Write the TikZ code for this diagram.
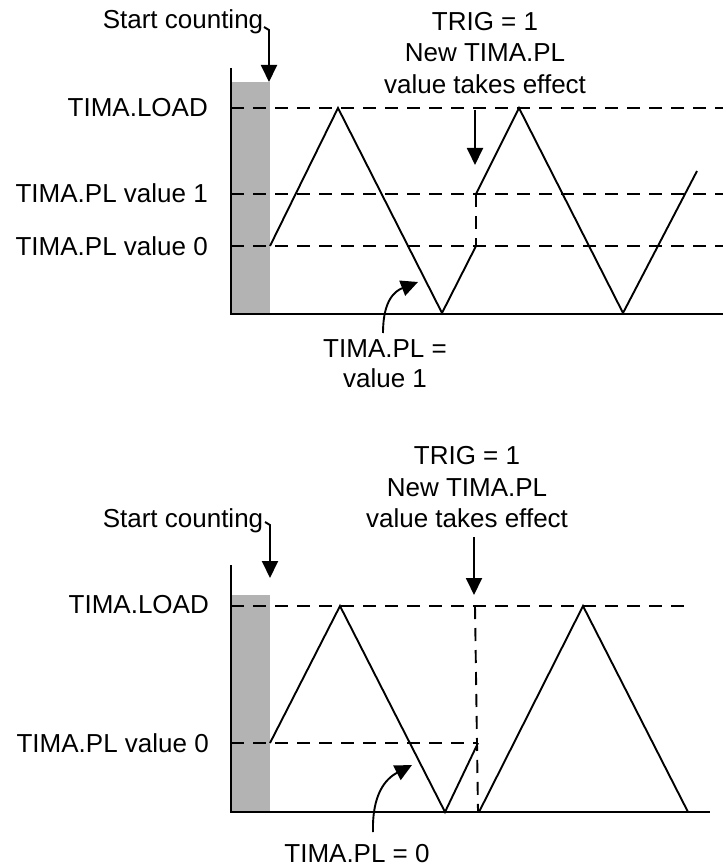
\documentclass[tikz,border=0pt]{standalone}
\usepackage{fontspec}
\setmainfont{Liberation Sans}
\usetikzlibrary{arrows.meta}
\definecolor{barGray}{RGB}{179,179,179}
\begin{document}
\begin{tikzpicture}[x=1pt,y=-1pt,
  lbl/.style={font=\fontsize{26}{31}\selectfont, inner sep=0pt},
  wave/.style={line width=1.9pt, line join=miter},
  axisline/.style={line width=2.8pt},
  guide/.style={line width=1.9pt, dash pattern=on 13pt off 9pt},
  ptr/.style={line width=1.9pt, -{Triangle[length=17pt,width=16pt]}},
]
\useasboundingbox (0,0) rectangle (723,866);

% ---------------- top diagram ----------------
\fill[barGray] (232,82) rectangle (270,313);
\draw[guide] (231,108) -- (723,108);
\draw[guide] (231,194) -- (723,194);
\draw[guide] (231,246) -- (723,246);
\draw[guide] (476,194) -- (476,246);
\draw[axisline] (231,68) -- (231,314) -- (723,314);

\coordinate (a0) at (270,246);
\coordinate (a1) at (338,108);
\coordinate (a2) at (442,313);
\coordinate (a3) at (476,246);
\coordinate (a4) at (476,194);
\coordinate (a5) at (519,108);
\coordinate (a6) at (623,313);
\coordinate (a7) at (697,171);
\draw[wave] (a0) -- (a1) -- (a2) -- (a3);
\draw[wave] (a4) -- (a5) -- (a6) -- (a7);

\node[lbl, anchor=base east] (loadA) at (208,117) {TIMA.LOAD};
\node[lbl, anchor=base east] (plOneA) at (208,203) {TIMA.PL value 1};
\node[lbl, anchor=base east] (plZeroA) at (208,255) {TIMA.PL value 0};

\node[lbl, anchor=base] (startA) at (183,29) {Start counting};
\coordinate (startAhook) at (264,27);
\coordinate (startAbend) at (269,30);
\coordinate (startAtip) at (269,82);
\draw[ptr] (startAhook) -- (startAbend) -- (startAtip);

\node[lbl, anchor=base] (trigA1) at (485,31) {TRIG = 1};
\node[lbl, anchor=base] (trigA2) at (485,62) {New TIMA.PL};
\node[lbl, anchor=base] (trigA3) at (485,94) {value takes effect};
\coordinate (trigAtip) at (475,165);
\draw[ptr] (475,110) -- (trigAtip);

\node[lbl, anchor=base] (eqA1) at (385,357) {TIMA.PL =};
\node[lbl, anchor=base] (eqA2) at (385,387) {value 1};
\coordinate (curveAtail) at (383,333);
\coordinate (curveAtip) at (418,282);
\draw[ptr] (curveAtail) .. controls (383,300) and (395,291) .. (curveAtip);

% ---------------- bottom diagram ----------------
\fill[barGray] (232,595) rectangle (270,812);
\draw[guide] (231,606) -- (688,606);
\draw[guide] (231,743) -- (478,743);
\draw[guide] (475,606) -- (478,812);
\draw[axisline] (231,565) -- (231,812) -- (710,812);

\coordinate (b0) at (270,743);
\coordinate (b1) at (340,606);
\coordinate (b2) at (445,812);
\coordinate (b3) at (478,743);
\coordinate (b4) at (479,812);
\coordinate (b5) at (583,606);
\coordinate (b6) at (688,812);
\draw[wave] (b0) -- (b1) -- (b2) -- (b3);
\draw[wave] (b4) -- (b5) -- (b6);

\node[lbl, anchor=base east] (loadB) at (209,613) {TIMA.LOAD};
\node[lbl, anchor=base east] (plZeroB) at (209,752) {TIMA.PL value 0};

\node[lbl, anchor=base] (startB) at (183,527) {Start counting};
\coordinate (startBhook) at (265,522);
\coordinate (startBbend) at (270,525);
\coordinate (startBtip) at (270,578);
\draw[ptr] (startBhook) -- (startBbend) -- (startBtip);

\node[lbl, anchor=base] (trigB1) at (467,464) {TRIG = 1};
\node[lbl, anchor=base] (trigB2) at (467,496) {New TIMA.PL};
\node[lbl, anchor=base] (trigB3) at (467,527) {value takes effect};
\coordinate (trigBtip) at (474,595);
\draw[ptr] (474,537) -- (trigBtip);

\node[lbl, anchor=base] (eqB) at (357,862) {TIMA.PL = 0};
\coordinate (curveBtail) at (373,832);
\coordinate (curveBtip) at (412,765);
\draw[ptr] (curveBtail) .. controls (372,795) and (385,779) .. (curveBtip);
\end{tikzpicture}
\end{document}
